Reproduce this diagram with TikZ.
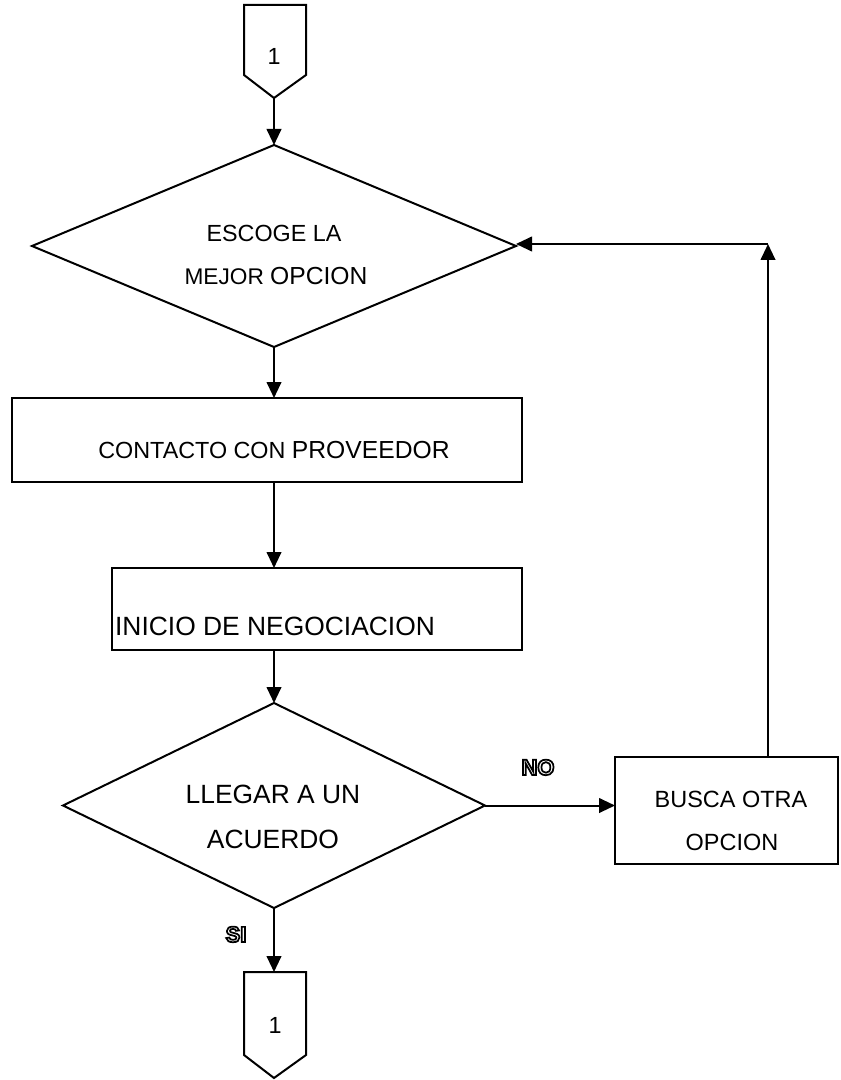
\documentclass[tikz,border=0pt]{standalone}
\usepackage{fontspec}
\setmainfont{Liberation Sans}
\usetikzlibrary{arrows.meta,shapes.geometric}
\newcommand{\outlinetext}[1]{\special{pdf:literal direct 1 Tr 1.3 w}#1\special{pdf:literal direct 0 Tr 1 w}}
\begin{document}
\begin{tikzpicture}[x=0.75pt,y=-0.75pt,
  shp/.style={draw,line width=1.5pt,inner sep=0pt,outer sep=0pt},
  box/.style={shp,rectangle},
  dia/.style={shp,diamond},
  lbl/.style={inner sep=0pt,anchor=base},
  arr/.style={line width=1.5pt,-{Triangle[length=12pt,width=11pt]}},
  off/.style={line width=1.5pt,line join=miter},
  yn/.style={lbl,font=\bfseries\fontsize{16.5}{18}\selectfont}
]
\useasboundingbox (0,0) rectangle (840,1080);
% off-page connector top
\coordinate (c1tip) at (274,98);
\draw[off] (244,5) -- (306,5) -- (306,75) -- (c1tip) -- (244,75) -- cycle;
\node[lbl,font=\fontsize{17.5}{20}\selectfont] (c1t) at (274,65) {1};
% decision 1
\node[dia,minimum width=484*0.75pt,minimum height=202*0.75pt] (d1) at (274,246) {};
\node[lbl,font=\fontsize{17.5}{20}\selectfont] (d1a) at (274,242) {ESCOGE LA};
\node[lbl] (d1b) at (276,285) {\fontsize{17}{18}\selectfont MEJOR \fontsize{18.5}{20}\selectfont OPCION};
% rectangle 1
\node[box,minimum width=510*0.75pt,minimum height=84*0.75pt] (r1) at (267,440) {};
\node[lbl] (r1t) at (274,458) {\fontsize{17.5}{18}\selectfont CONTACTO CON \fontsize{18.5}{20}\selectfont PROVEEDOR};
% rectangle 2
\node[box,minimum width=410*0.75pt,minimum height=82*0.75pt] (r2) at (317,609) {};
\node[lbl,font=\fontsize{19.8}{22}\selectfont] (r2t) at (275,635) {INICIO DE NEGOCIACION};
% decision 2
\node[dia,minimum width=422*0.75pt,minimum height=205*0.75pt] (d2) at (274,805.5) {};
\node[lbl,font=\fontsize{19.8}{22}\selectfont] (d2a) at (273,803) {LLEGAR A UN};
\node[lbl,font=\fontsize{19.8}{22}\selectfont] (d2b) at (273,848) {ACUERDO};
% rectangle 3
\node[box,minimum width=223*0.75pt,minimum height=107*0.75pt] (r3) at (726.5,810.5) {};
\node[lbl,font=\fontsize{17.6}{20}\selectfont] (r3a) at (731,807) {BUSCA OTRA};
\node[lbl,font=\fontsize{17.6}{20}\selectfont] (r3b) at (732,850) {OPCION};
% off-page connector bottom
\coordinate (c2top) at (274,972);
\coordinate (c2tip) at (274,1078);
\draw[off] (244,972) -- (306,972) -- (306,1055) -- (c2tip) -- (244,1055) -- cycle;
\node[lbl,font=\fontsize{17.5}{20}\selectfont] (c2t) at (275,1033) {1};
% labels
\node[yn] (no) at (538,775) {\outlinetext{NO}};
\node[yn] (si) at (236,942) {\outlinetext{SI}};
% connectors
\coordinate (corner) at (768,244);
\draw[arr] (c1tip) -- (d1.north);
\draw[arr] (d1.south) -- (d1.south |- r1.north);
\draw[arr] (d1.south |- r1.south) -- (d1.south |- r2.north);
\draw[arr] (d1.south |- r2.south) -- (d2.north);
\draw[arr] (d2.east) -- (d2.east -| r3.west);
\draw[arr] (corner |- r3.north) -- (corner);
\draw[arr] (corner) -- (corner -| d1.east);
\draw[arr] (d2.south) -- (c2top);
\end{tikzpicture}
\end{document}
